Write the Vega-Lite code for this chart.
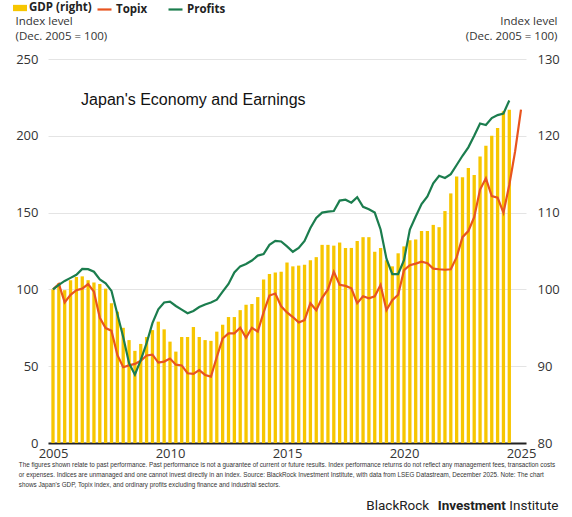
{
  "$schema": "https://vega.github.io/schema/vega-lite/v6.json",
  "width": 478,
  "height": 384,
  "autosize": {"type": "none"},
  "padding": {"left": 48, "top": 59, "right": 46, "bottom": 74},
  "background": "white",
  "config": {"view": {"stroke": null}, "font": "Open Sans"},
  "datasets": {
    "gdp": [
      {"t": 2005.00, "gdp": 100.0}, {"t": 2005.25, "gdp": 100.8}, {"t": 2005.50, "gdp": 99.9}, {"t": 2005.75, "gdp": 101.2},
      {"t": 2006.00, "gdp": 101.6}, {"t": 2006.25, "gdp": 101.7}, {"t": 2006.50, "gdp": 101.2}, {"t": 2006.75, "gdp": 100.9},
      {"t": 2007.00, "gdp": 100.7}, {"t": 2007.25, "gdp": 100.1}, {"t": 2007.50, "gdp": 98.2}, {"t": 2007.75, "gdp": 97.1},
      {"t": 2008.00, "gdp": 95.0}, {"t": 2008.25, "gdp": 93.4}, {"t": 2008.50, "gdp": 92.0}, {"t": 2008.75, "gdp": 92.9},
      {"t": 2009.00, "gdp": 93.8}, {"t": 2009.25, "gdp": 94.7}, {"t": 2009.50, "gdp": 95.8}, {"t": 2009.75, "gdp": 94.8},
      {"t": 2010.00, "gdp": 93.2}, {"t": 2010.25, "gdp": 91.9}, {"t": 2010.50, "gdp": 93.8}, {"t": 2010.75, "gdp": 93.8},
      {"t": 2011.00, "gdp": 95.1}, {"t": 2011.25, "gdp": 93.8}, {"t": 2011.50, "gdp": 93.4}, {"t": 2011.75, "gdp": 93.3},
      {"t": 2012.00, "gdp": 94.5}, {"t": 2012.25, "gdp": 95.4}, {"t": 2012.50, "gdp": 96.4}, {"t": 2012.75, "gdp": 96.4},
      {"t": 2013.00, "gdp": 97.3}, {"t": 2013.25, "gdp": 98.0}, {"t": 2013.50, "gdp": 98.1}, {"t": 2013.75, "gdp": 99.0},
      {"t": 2014.00, "gdp": 101.3}, {"t": 2014.25, "gdp": 102.0}, {"t": 2014.50, "gdp": 102.2}, {"t": 2014.75, "gdp": 102.3},
      {"t": 2015.00, "gdp": 103.5}, {"t": 2015.25, "gdp": 103.0}, {"t": 2015.50, "gdp": 103.1}, {"t": 2015.75, "gdp": 103.2},
      {"t": 2016.00, "gdp": 103.8}, {"t": 2016.25, "gdp": 104.2}, {"t": 2016.50, "gdp": 105.8}, {"t": 2016.75, "gdp": 105.8},
      {"t": 2017.00, "gdp": 105.7}, {"t": 2017.25, "gdp": 106.1}, {"t": 2017.50, "gdp": 105.4}, {"t": 2017.75, "gdp": 105.4},
      {"t": 2018.00, "gdp": 106.3}, {"t": 2018.25, "gdp": 106.8}, {"t": 2018.50, "gdp": 106.8}, {"t": 2018.75, "gdp": 104.9},
      {"t": 2019.00, "gdp": 105.4}, {"t": 2019.25, "gdp": 103.8}, {"t": 2019.50, "gdp": 103.0}, {"t": 2019.75, "gdp": 104.7},
      {"t": 2020.00, "gdp": 105.6}, {"t": 2020.25, "gdp": 106.4}, {"t": 2020.50, "gdp": 106.5}, {"t": 2020.75, "gdp": 107.6},
      {"t": 2021.00, "gdp": 107.6}, {"t": 2021.25, "gdp": 108.4}, {"t": 2021.50, "gdp": 108.1}, {"t": 2021.75, "gdp": 110.2},
      {"t": 2022.00, "gdp": 112.5}, {"t": 2022.25, "gdp": 114.7}, {"t": 2022.50, "gdp": 114.6}, {"t": 2022.75, "gdp": 115.8},
      {"t": 2023.00, "gdp": 114.9}, {"t": 2023.25, "gdp": 117.3}, {"t": 2023.50, "gdp": 118.7}, {"t": 2023.75, "gdp": 120.0},
      {"t": 2024.00, "gdp": 121.0}, {"t": 2024.25, "gdp": 123.2}, {"t": 2024.50, "gdp": 123.4}
    ],
    "lines": [
      {"t": 2005.00, "series": "Topix", "v": 100}, {"t": 2005.25, "series": "Topix", "v": 103.5}, {"t": 2005.50, "series": "Topix", "v": 91.5}, {"t": 2005.75, "series": "Topix", "v": 96.5},
      {"t": 2006.00, "series": "Topix", "v": 99.5}, {"t": 2006.25, "series": "Topix", "v": 100.5}, {"t": 2006.50, "series": "Topix", "v": 103.5}, {"t": 2006.75, "series": "Topix", "v": 98.5},
      {"t": 2007.00, "series": "Topix", "v": 81.5}, {"t": 2007.25, "series": "Topix", "v": 74.8}, {"t": 2007.50, "series": "Topix", "v": 73}, {"t": 2007.75, "series": "Topix", "v": 57.3},
      {"t": 2008.00, "series": "Topix", "v": 49.3}, {"t": 2008.25, "series": "Topix", "v": 50.5}, {"t": 2008.50, "series": "Topix", "v": 51.5}, {"t": 2008.75, "series": "Topix", "v": 53.5},
      {"t": 2009.00, "series": "Topix", "v": 57}, {"t": 2009.25, "series": "Topix", "v": 57.5}, {"t": 2009.50, "series": "Topix", "v": 52.3}, {"t": 2009.75, "series": "Topix", "v": 53},
      {"t": 2010.00, "series": "Topix", "v": 55}, {"t": 2010.25, "series": "Topix", "v": 51}, {"t": 2010.50, "series": "Topix", "v": 50.5}, {"t": 2010.75, "series": "Topix", "v": 45.4},
      {"t": 2011.00, "series": "Topix", "v": 45}, {"t": 2011.25, "series": "Topix", "v": 47.5}, {"t": 2011.50, "series": "Topix", "v": 44.3}, {"t": 2011.75, "series": "Topix", "v": 43.2},
      {"t": 2012.00, "series": "Topix", "v": 56}, {"t": 2012.25, "series": "Topix", "v": 68}, {"t": 2012.50, "series": "Topix", "v": 71.4}, {"t": 2012.75, "series": "Topix", "v": 71.4},
      {"t": 2013.00, "series": "Topix", "v": 75}, {"t": 2013.25, "series": "Topix", "v": 68.5}, {"t": 2013.50, "series": "Topix", "v": 75}, {"t": 2013.75, "series": "Topix", "v": 72.5},
      {"t": 2014.00, "series": "Topix", "v": 85}, {"t": 2014.25, "series": "Topix", "v": 96}, {"t": 2014.50, "series": "Topix", "v": 97.3}, {"t": 2014.75, "series": "Topix", "v": 89},
      {"t": 2015.00, "series": "Topix", "v": 85}, {"t": 2015.25, "series": "Topix", "v": 82}, {"t": 2015.50, "series": "Topix", "v": 78.5}, {"t": 2015.75, "series": "Topix", "v": 80},
      {"t": 2016.00, "series": "Topix", "v": 91}, {"t": 2016.25, "series": "Topix", "v": 86.5}, {"t": 2016.50, "series": "Topix", "v": 94.5}, {"t": 2016.75, "series": "Topix", "v": 100},
      {"t": 2017.00, "series": "Topix", "v": 111.5}, {"t": 2017.25, "series": "Topix", "v": 103}, {"t": 2017.50, "series": "Topix", "v": 102.3}, {"t": 2017.75, "series": "Topix", "v": 100.7},
      {"t": 2018.00, "series": "Topix", "v": 91}, {"t": 2018.25, "series": "Topix", "v": 95.5}, {"t": 2018.50, "series": "Topix", "v": 94.2}, {"t": 2018.75, "series": "Topix", "v": 95.5},
      {"t": 2019.00, "series": "Topix", "v": 102.9}, {"t": 2019.25, "series": "Topix", "v": 86.5}, {"t": 2019.50, "series": "Topix", "v": 93}, {"t": 2019.75, "series": "Topix", "v": 96.5},
      {"t": 2020.00, "series": "Topix", "v": 112.5}, {"t": 2020.25, "series": "Topix", "v": 115.8}, {"t": 2020.50, "series": "Topix", "v": 116.8}, {"t": 2020.75, "series": "Topix", "v": 118},
      {"t": 2021.00, "series": "Topix", "v": 117}, {"t": 2021.25, "series": "Topix", "v": 113.5}, {"t": 2021.50, "series": "Topix", "v": 113.1}, {"t": 2021.75, "series": "Topix", "v": 112.8},
      {"t": 2022.00, "series": "Topix", "v": 113.1}, {"t": 2022.25, "series": "Topix", "v": 121}, {"t": 2022.50, "series": "Topix", "v": 134}, {"t": 2022.75, "series": "Topix", "v": 138},
      {"t": 2023.00, "series": "Topix", "v": 147}, {"t": 2023.25, "series": "Topix", "v": 165}, {"t": 2023.50, "series": "Topix", "v": 172.3}, {"t": 2023.75, "series": "Topix", "v": 160.8},
      {"t": 2024.00, "series": "Topix", "v": 159.7}, {"t": 2024.25, "series": "Topix", "v": 150}, {"t": 2024.50, "series": "Topix", "v": 168}, {"t": 2024.75, "series": "Topix", "v": 190},
      {"t": 2025.00, "series": "Topix", "v": 217},
      {"t": 2005.00, "series": "Profits", "v": 100}, {"t": 2005.25, "series": "Profits", "v": 103}, {"t": 2005.50, "series": "Profits", "v": 105.5}, {"t": 2005.75, "series": "Profits", "v": 107.5},
      {"t": 2006.00, "series": "Profits", "v": 109.5}, {"t": 2006.25, "series": "Profits", "v": 113.3}, {"t": 2006.50, "series": "Profits", "v": 113.2}, {"t": 2006.75, "series": "Profits", "v": 111.5},
      {"t": 2007.00, "series": "Profits", "v": 106.5}, {"t": 2007.25, "series": "Profits", "v": 104}, {"t": 2007.50, "series": "Profits", "v": 99}, {"t": 2007.75, "series": "Profits", "v": 84},
      {"t": 2008.00, "series": "Profits", "v": 69}, {"t": 2008.25, "series": "Profits", "v": 52}, {"t": 2008.50, "series": "Profits", "v": 44.5}, {"t": 2008.75, "series": "Profits", "v": 54},
      {"t": 2009.00, "series": "Profits", "v": 65}, {"t": 2009.25, "series": "Profits", "v": 78}, {"t": 2009.50, "series": "Profits", "v": 87}, {"t": 2009.75, "series": "Profits", "v": 91.5},
      {"t": 2010.00, "series": "Profits", "v": 92}, {"t": 2010.25, "series": "Profits", "v": 89.2}, {"t": 2010.50, "series": "Profits", "v": 86.8}, {"t": 2010.75, "series": "Profits", "v": 84.5},
      {"t": 2011.00, "series": "Profits", "v": 86}, {"t": 2011.25, "series": "Profits", "v": 88.5}, {"t": 2011.50, "series": "Profits", "v": 90.2}, {"t": 2011.75, "series": "Profits", "v": 91.5},
      {"t": 2012.00, "series": "Profits", "v": 93.3}, {"t": 2012.25, "series": "Profits", "v": 98.5}, {"t": 2012.50, "series": "Profits", "v": 103.5}, {"t": 2012.75, "series": "Profits", "v": 111},
      {"t": 2013.00, "series": "Profits", "v": 115}, {"t": 2013.25, "series": "Profits", "v": 116.5}, {"t": 2013.50, "series": "Profits", "v": 118.8}, {"t": 2013.75, "series": "Profits", "v": 122},
      {"t": 2014.00, "series": "Profits", "v": 123}, {"t": 2014.25, "series": "Profits", "v": 129}, {"t": 2014.50, "series": "Profits", "v": 131.6}, {"t": 2014.75, "series": "Profits", "v": 131.2},
      {"t": 2015.00, "series": "Profits", "v": 128}, {"t": 2015.25, "series": "Profits", "v": 124.5}, {"t": 2015.50, "series": "Profits", "v": 127}, {"t": 2015.75, "series": "Profits", "v": 131.5},
      {"t": 2016.00, "series": "Profits", "v": 140}, {"t": 2016.25, "series": "Profits", "v": 146.5}, {"t": 2016.50, "series": "Profits", "v": 150}, {"t": 2016.75, "series": "Profits", "v": 150.6},
      {"t": 2017.00, "series": "Profits", "v": 151}, {"t": 2017.25, "series": "Profits", "v": 157.8}, {"t": 2017.50, "series": "Profits", "v": 158.4}, {"t": 2017.75, "series": "Profits", "v": 156.5},
      {"t": 2018.00, "series": "Profits", "v": 160}, {"t": 2018.25, "series": "Profits", "v": 153.8}, {"t": 2018.50, "series": "Profits", "v": 152.2}, {"t": 2018.75, "series": "Profits", "v": 150},
      {"t": 2019.00, "series": "Profits", "v": 139}, {"t": 2019.25, "series": "Profits", "v": 120}, {"t": 2019.50, "series": "Profits", "v": 110}, {"t": 2019.75, "series": "Profits", "v": 110},
      {"t": 2020.00, "series": "Profits", "v": 119}, {"t": 2020.25, "series": "Profits", "v": 139}, {"t": 2020.50, "series": "Profits", "v": 147.5}, {"t": 2020.75, "series": "Profits", "v": 155.5},
      {"t": 2021.00, "series": "Profits", "v": 160.5}, {"t": 2021.25, "series": "Profits", "v": 169}, {"t": 2021.50, "series": "Profits", "v": 174}, {"t": 2021.75, "series": "Profits", "v": 172.5},
      {"t": 2022.00, "series": "Profits", "v": 175}, {"t": 2022.25, "series": "Profits", "v": 181}, {"t": 2022.50, "series": "Profits", "v": 187}, {"t": 2022.75, "series": "Profits", "v": 192.5},
      {"t": 2023.00, "series": "Profits", "v": 200}, {"t": 2023.25, "series": "Profits", "v": 208}, {"t": 2023.50, "series": "Profits", "v": 207}, {"t": 2023.75, "series": "Profits", "v": 211.5},
      {"t": 2024.00, "series": "Profits", "v": 213.5}, {"t": 2024.25, "series": "Profits", "v": 214.5}, {"t": 2024.50, "series": "Profits", "v": 223}
    ],
    "notes": [
      {"label": "Japan's Economy and Earnings"}
    ]
  },
  "layer": [
    {
      "data": {"name": "gdp"},
      "mark": {"type": "bar", "size": 3.3},
      "encoding": {
        "x": {"field": "t", "type": "quantitative", "scale": {"domain": [2005, 2025], "nice": false, "zero": false}},
        "y": {
          "field": "gdp", "type": "quantitative",
          "scale": {"domain": [80, 130], "nice": false, "zero": false},
          "axis": {
            "orient": "right", "values": [80, 90, 100, 110, 120, 130], "grid": false, "domain": false, "ticks": false,
            "labelFontSize": 13, "labelColor": "#333", "labelPadding": 11,
            "title": ["Index level", "(Dec. 2005 = 100)"], "titleAngle": 0, "titleAlign": "right", "titleBaseline": "top",
            "titleX": 31, "titleY": -44, "titleFontSize": 11.5, "titleFontWeight": "normal", "titleColor": "#333", "titleLineHeight": 15
          }
        },
        "y2": {"datum": 80},
        "color": {
          "datum": "GDP (right)", "type": "nominal",
          "scale": {"domain": ["GDP (right)"], "range": ["#F7C600"]},
          "legend": {
            "orient": "none", "legendX": -35, "legendY": -58, "title": null, "padding": 0,
            "symbolType": "M-1,-0.45H1V0.45H-1Z", "symbolSize": 196, "symbolStrokeWidth": 0, "symbolOpacity": 1,
            "labelFontSize": 11.5, "labelFontWeight": "bold", "labelColor": "#222", "labelOffset": 2
          }
        }
      }
    },
    {
      "data": {"name": "lines"},
      "mark": {"type": "line", "strokeWidth": 2.2},
      "encoding": {
        "x": {
          "field": "t", "type": "quantitative",
          "scale": {"domain": [2005, 2025], "nice": false, "zero": false},
          "axis": {
            "values": [2005, 2010, 2015, 2020, 2025], "format": "d", "grid": false, "ticks": false,
            "domainColor": "#222", "domainWidth": 2, "labelFontSize": 13, "labelColor": "#333", "labelPadding": 4,
            "labelFlush": false, "title": null
          }
        },
        "y": {
          "field": "v", "type": "quantitative",
          "scale": {"domain": [0, 250], "nice": false},
          "axis": {
            "orient": "left", "values": [0, 50, 100, 150, 200, 250], "grid": true, "gridColor": "#e4e4e4", "gridWidth": 1,
            "domain": false, "ticks": false, "labelFontSize": 13, "labelColor": "#333", "labelPadding": 10,
            "title": ["Index level", "(Dec. 2005 = 100)"], "titleAngle": 0, "titleAlign": "left", "titleBaseline": "top",
            "titleX": -33, "titleY": -44, "titleFontSize": 11.5, "titleFontWeight": "normal", "titleColor": "#333", "titleLineHeight": 15
          }
        },
        "color": {
          "field": "series", "type": "nominal",
          "scale": {"domain": ["Topix", "Profits"], "range": ["#E8541F", "#1B7D4E"]},
          "legend": {
            "orient": "none", "legendX": 48, "legendY": -58, "direction": "horizontal", "title": null, "padding": 0,
            "symbolType": "stroke", "symbolSize": 196, "symbolStrokeWidth": 2.2,
            "labelFontSize": 11.5, "labelFontWeight": "bold", "labelColor": "#222", "labelOffset": 3, "columnPadding": 16
          }
        }
      }
    },
    {
      "data": {"name": "notes"},
      "mark": {"type": "text", "align": "left", "baseline": "middle", "font": "Liberation Sans", "fontSize": 16, "color": "#111"},
      "encoding": {
        "text": {"field": "label"},
        "x": {"datum": 2006.2, "type": "quantitative"},
        "y": {"datum": 223, "type": "quantitative", "scale": {"domain": [0, 250], "nice": false}, "axis": null}
      }
    },
    {
      "data": {"name": "notes"},
      "mark": {
        "type": "text", "align": "left", "baseline": "top", "font": "Liberation Sans", "fontSize": 6.3, "color": "#333", "lineHeight": 9.6,
        "text": [
          "The figures shown relate to past performance. Past performance is not a guarantee of current or future results. Index performance returns do not reflect any management fees, transaction costs",
          "or expenses. Indices are unmanaged and one cannot invest directly in an index. Source: BlackRock Investment Institute, with data from LSEG Datastream, December 2025. Note: The chart",
          "shows Japan's GDP, Topix index, and ordinary profits excluding finance and industrial sectors."
        ]
      },
      "encoding": {
        "x": {"datum": 2003.54, "type": "quantitative"},
        "y": {"datum": -12.6, "type": "quantitative", "scale": {"domain": [0, 250], "nice": false}, "axis": null}
      }
    },
    {
      "data": {"name": "notes"},
      "mark": {"type": "text", "align": "left", "baseline": "middle", "font": "Roboto", "fontSize": 13.5, "color": "#222", "text": "BlackRock"},
      "encoding": {
        "x": {"datum": 2018.39, "type": "quantitative"},
        "y": {"datum": -41, "type": "quantitative", "scale": {"domain": [0, 250], "nice": false}, "axis": null}
      }
    },
    {
      "data": {"name": "notes"},
      "mark": {"type": "text", "align": "left", "baseline": "middle", "font": "Roboto", "fontSize": 13.5, "fontWeight": "bold", "color": "#222", "text": "Investment"},
      "encoding": {
        "x": {"datum": 2021.44, "type": "quantitative"},
        "y": {"datum": -41, "type": "quantitative", "scale": {"domain": [0, 250], "nice": false}, "axis": null}
      }
    },
    {
      "data": {"name": "notes"},
      "mark": {"type": "text", "align": "left", "baseline": "middle", "font": "Roboto", "fontSize": 13.5, "color": "#222", "text": "Institute"},
      "encoding": {
        "x": {"datum": 2024.5, "type": "quantitative"},
        "y": {"datum": -41, "type": "quantitative", "scale": {"domain": [0, 250], "nice": false}, "axis": null}
      }
    }
  ],
  "resolve": {"scale": {"y": "independent", "color": "independent"}}
}
